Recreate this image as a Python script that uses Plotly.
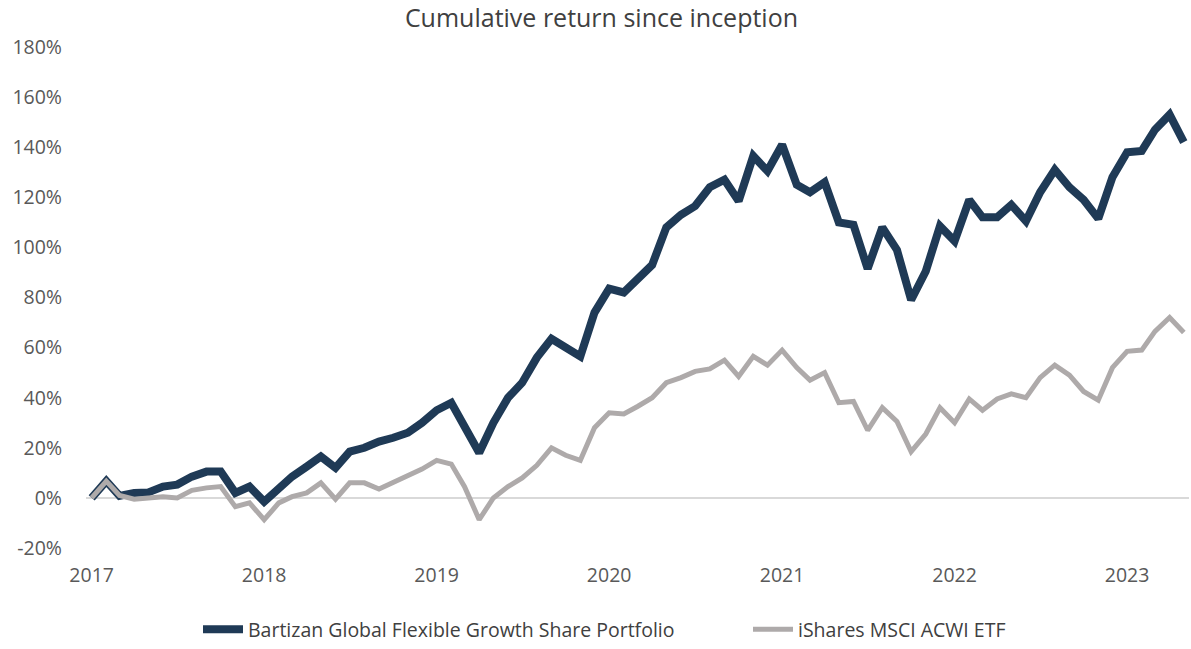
import pandas as pd
import plotly.graph_objects as go

dates = pd.date_range("2017-01-01", periods=77, freq="MS")

portfolio = [
    0, 6.7, 0.8, 2, 2.2, 4.5, 5.3, 8.5, 10.5, 10.5,
    2, 4.5, -1.5, 4, 8.5, 12.5, 16.5, 12, 18.5, 20,
    22.5, 24, 26, 30, 35, 38, 29, 18, 30, 40,
    46, 56, 63.5, 60, 56.5, 74, 83.5, 82, 87.5, 93,
    108, 113, 116.5, 124, 127, 118.5, 136.5, 130.5, 141, 125,
    122, 126, 110, 109, 91.5, 108, 99, 79, 90.5, 108.5,
    102.5, 119, 112, 112, 117, 110.5, 122, 131, 124, 119,
    111.5, 128, 138, 138.5, 147, 153, 142,
]

benchmark = [
    0, 6.7, 1, -0.5, 0, 0.5, 0, 3, 4, 4.5,
    -3.5, -2, -8.7, -2, 0.5, 2, 6, -0.5, 6, 6,
    3.5, 6, 8.5, 11.5, 15, 13.5, 4.5, -8.7, 0, 4.5,
    8, 13, 20, 17, 15, 28, 34, 33.5, 36.5, 40,
    46, 48, 50.5, 51.5, 55, 48.5, 56.5, 53, 59, 52,
    47, 50, 38, 38.5, 27, 36, 30.5, 18.5, 25.5, 36,
    30, 39.5, 35, 39.5, 41.5, 40, 48, 53, 49, 42.5,
    39, 52, 58.5, 59, 66.5, 72, 66,
]

series_names = ["Bartizan Global Flexible Growth Share Portfolio", "iShares MSCI ACWI ETF"]
y_ticks = list(range(-20, 181, 20))
y_tick_labels = [f"{v}%" for v in y_ticks]

fig = go.Figure()
fig.add_trace(go.Scatter(
    x=dates, y=portfolio, mode="lines", name=series_names[0],
    line=dict(color="#1F3A56", width=8), legend="legend",
))
fig.add_trace(go.Scatter(
    x=dates, y=benchmark, mode="lines", name=series_names[1],
    line=dict(color="#AEAAAA", width=5), legend="legend2",
))

font_family = "Open Sans, Arial, sans-serif"
legend_common = dict(orientation="h", xref="container", xanchor="left",
                     yref="container", y=0.0, yanchor="bottom",
                     font=dict(family=font_family, size=19.5, color="#404040"),
                     itemwidth=40, bgcolor="rgba(0,0,0,0)")
fig.update_layout(
    width=1191, height=649,
    paper_bgcolor="white", plot_bgcolor="white",
    margin=dict(l=86, r=2, t=47, b=100.5),
    title=dict(text="Cumulative return since inception", x=0.505, xref="container",
               xanchor="center", y=0.972, yref="container", yanchor="middle",
               font=dict(family=font_family, size=25, color="#404040")),
    font=dict(family=font_family, size=19.5, color="#595959"),
    showlegend=True,
    legend=dict(x=198 / 1191, **legend_common),
    legend2=dict(x=748 / 1191, **legend_common),
)
fig.update_xaxes(
    type="date", range=["2016-12-20", "2023-05-12"], automargin=False,
    tickmode="linear", tick0="2017-01-01", dtick="M12", tickformat="%Y",
    showgrid=False, showline=False, zeroline=False, ticks="",
    ticklabelstandoff=13,
    tickfont=dict(family=font_family, size=19.5, color="#595959"),
)
fig.update_yaxes(
    range=[-20, 180], tickmode="array", tickvals=y_ticks, ticktext=y_tick_labels,
    automargin=False,
    showgrid=False, zeroline=True, zerolinecolor="#D9D9D9", zerolinewidth=2,
    showline=False, ticks="", ticklabelstandoff=23,
    tickfont=dict(family=font_family, size=19.5, color="#595959"),
)

fig.write_html("out.html", config={"displayModeBar": False},
               post_script="document.body.style.margin='0px';")
